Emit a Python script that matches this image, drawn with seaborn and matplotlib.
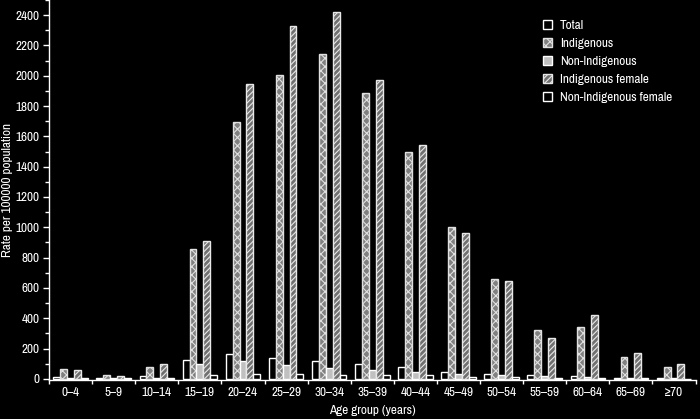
import matplotlib
matplotlib.use("Agg")
import matplotlib.pyplot as plt
import matplotlib.patches as mpatches
from matplotlib import font_manager
from matplotlib.ticker import MultipleLocator, FixedLocator
import seaborn as sns
import pandas as pd

age_groups = ["0–4", "5–9", "10–14", "15–19", "20–24", "25–29", "30–34", "35–39",
              "40–44", "45–49", "50–54", "55–59", "60–64", "65–69", "≥70"]
series = ["Total", "Indigenous", "Non-Indigenous", "Indigenous female", "Non-Indigenous female"]

total = [10, 5, 20, 125, 165, 136, 119, 99, 77, 46, 33, 24, 18, 5, 3]
indigenous = [64, 22, 77, 857, 1694, 2004, 2142, 1885, 1496, 1002, 659, 321, 341, 147, 75]
non_indigenous = [5, 3, 5, 97, 117, 90, 70, 59, 46, 33, 24, 18, 13, 5, 3]
indigenous_female = [55, 20, 99, 910, 1945, 2327, 2420, 1971, 1543, 962, 646, 272, 420, 171, 97]
non_indigenous_female = [3, 3, 3, 26, 33, 33, 26, 26, 24, 11, 10, 5, 5, 3, 2]

values = [total, indigenous, non_indigenous, indigenous_female, non_indigenous_female]
rows = []
for s, vals in zip(series, values):
    for g, v in zip(age_groups, vals):
        rows.append({"Age group": g, "Series": s, "Rate": v})
df = pd.DataFrame(rows)

sns.set_style("dark")

names = sorted({f.name for f in font_manager.fontManager.ttflist})
narrow = [n for n in names if ("Narrow" in n or "Condensed" in n) and "Mono" not in n]
fam = narrow[:1] + ["DejaVu Sans"]
plt.rcParams["font.family"] = fam
plt.rcParams["hatch.linewidth"] = 0.8
fs = 9.5 if narrow else 7.5

fig = plt.figure(figsize=(7.0, 4.19), dpi=100, facecolor="black")
ax = fig.add_axes([0.07, 0.093, 0.9236, 0.907])
ax.set_facecolor("black")

sns.barplot(data=df, x="Age group", y="Rate", hue="Series", order=age_groups,
            hue_order=series, width=0.8, ax=ax, legend=False, saturation=1)

styles = {
    "Total": dict(fc="black", ec="white", hatch=None),
    "Indigenous": dict(fc="#808080", ec="#e0e0e0", hatch="xxxx"),
    "Non-Indigenous": dict(fc="#c0c0c0", ec="white", hatch=None),
    "Indigenous female": dict(fc="#707070", ec="#e8e8e8", hatch="//////"),
    "Non-Indigenous female": dict(fc="black", ec="white", hatch=None),
}
for s, cont in zip(series, ax.containers):
    st = styles[s]
    for p in cont:
        p.set_facecolor(st["fc"])
        p.set_edgecolor(st["ec"])
        p.set_linewidth(1.0)
        if st["hatch"]:
            p.set_hatch(st["hatch"])

ax.set_xlim(-0.5, 14.5)
ax.set_ylim(-8, 2500)
ax.set_yticks(range(0, 2401, 200))
ax.yaxis.set_minor_locator(MultipleLocator(100))
ax.xaxis.set_minor_locator(FixedLocator([i + 0.5 for i in range(-1, 15)]))
ax.tick_params(axis="y", which="both", direction="out", colors="white", labelsize=fs,
               length=4, width=1, left=True, pad=3)
ax.tick_params(axis="y", which="minor", length=3)
ax.tick_params(axis="x", which="major", length=0, colors="white", labelsize=fs, pad=5)
ax.tick_params(axis="x", which="minor", length=3, width=1, colors="white", bottom=True)
for lab in ax.get_xticklabels() + ax.get_yticklabels():
    lab.set_color("white")

for side in ["top", "right"]:
    ax.spines[side].set_visible(False)
for side in ["left", "bottom"]:
    ax.spines[side].set_visible(True)
    ax.spines[side].set_color("white")
    ax.spines[side].set_linewidth(1.0)
ax.grid(False)

ax.set_xlabel("Age group (years)", color="white", fontsize=fs)
ax.set_ylabel("Rate per 100000 population", color="white", fontsize=fs)
ax.xaxis.set_label_coords(0.5, -0.079)
ax.yaxis.set_label_coords(-0.064, 0.5)
ax.xaxis.label.set_va("center")
ax.yaxis.label.set_va("center")

handles = []
for s in series:
    st = styles[s]
    handles.append(mpatches.Patch(facecolor=st["fc"], edgecolor=st["ec"],
                                  hatch=st["hatch"], label=s))
leg = ax.legend(handles=handles, loc="upper left", bbox_to_anchor=(0.745, 0.978),
                frameon=False, fontsize=fs, handlelength=0.7, handleheight=0.7,
                labelspacing=0.5, handletextpad=0.6)
for t in leg.get_texts():
    t.set_color("white")

fig.savefig("out.png", dpi=100, facecolor="black")
